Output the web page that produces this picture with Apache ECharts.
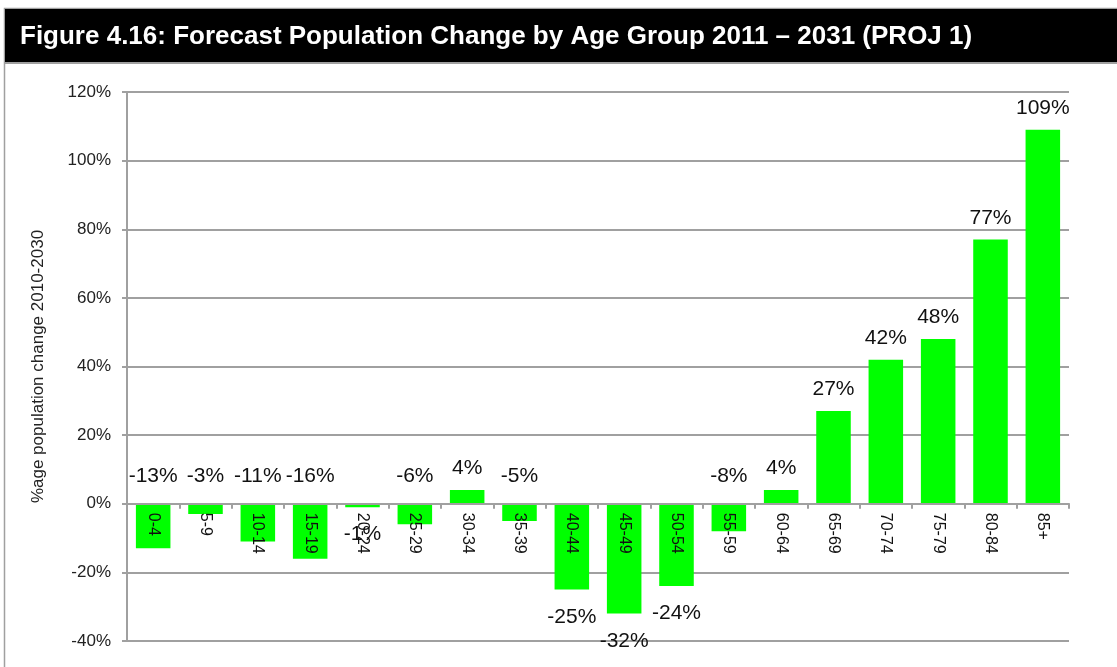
<!DOCTYPE html>
<html>
<head>
<meta charset="utf-8">
<script src="https://cdn.jsdelivr.net/npm/echarts@6/dist/echarts.min.js"></script>
<style>
  html, body { margin: 0; padding: 0; background: #fff; }
  #chart { width: 1117px; height: 667px; }
</style>
</head>
<body>
<div id="chart"></div>
<script type="text/javascript">
  const ageGroups = ['0-4', '5-9', '10-14', '15-19', '20-24', '25-29', '30-34', '35-39', '40-44',
    '45-49', '50-54', '55-59', '60-64', '65-69', '70-74', '75-79', '80-84', '85+']
  const changePct = [-13, -3, -11, -16, -1, -6, 4, -5, -25, -32, -24, -8, 4, 27, 42, 48, 77, 109]
  const yTicks = { min: -40, max: 120, interval: 20 }

  const FONT = "'Liberation Sans', Arial, sans-serif"
  const GRID_TOP = 92
  const GRID_BOTTOM = 26
  const H = 667
  const myChart = echarts.init(document.getElementById('chart'))

  // the category axis sits on the 0% line, labels and all
  const plotH = H - GRID_TOP - GRID_BOTTOM
  const zeroY = GRID_TOP + plotH * (yTicks.max / (yTicks.max - yTicks.min))
  const xOffset = -(H - GRID_BOTTOM - zeroY)

  // labels sit above the zero line except the big drops and the tiny -1%
  const barData = changePct.map((v) => {
    const below = v <= -20 || (v < 0 && v > -2)
    return {
      value: v,
      label: { position: below ? 'bottom' : 'top', distance: v < 0 ? 17 : 11 }
    }
  })

  let option = {
    animation: false,
    graphic: [
      {
        type: 'rect',
        shape: { x: 4.5, y: 8.5, width: 1200, height: 700 },
        style: { fill: '#fff', stroke: '#a0a0a0', lineWidth: 1.5 },
        z: -10
      },
      {
        type: 'rect',
        shape: { x: 5, y: 9, width: 1112, height: 54 },
        style: { fill: '#000' },
        z: -9
      },
      {
        type: 'rect',
        shape: { x: 5, y: 62, width: 1112, height: 2 },
        style: { fill: '#a0a0a0' },
        z: -9
      }
    ],
    title: {
      text: 'Figure 4.16: Forecast Population Change by Age Group 2011 \u2013 2031 (PROJ 1)',
      left: 15,
      top: 19,
      textStyle: {
        color: '#fff',
        fontSize: 26,
        fontWeight: 'bold',
        fontFamily: FONT
      }
    },
    grid: {
      left: 127,
      right: 48,
      top: GRID_TOP,
      bottom: GRID_BOTTOM,
      outerBoundsMode: 'none',
      containLabel: false
    },
    xAxis: {
      type: 'category',
      data: ageGroups,
      position: 'bottom',
      offset: xOffset,
      z: 10,
      axisLine: {
        onZero: false,
        lineStyle: { color: '#a0a0a0', width: 2 }
      },
      axisTick: {
        show: true,
        length: 5,
        lineStyle: { color: '#a0a0a0', width: 2 }
      },
      axisLabel: {
        rotate: -90,
        interval: 0,
        margin: 9,
        color: '#111',
        fontSize: 16,
        fontFamily: FONT
      }
    },
    yAxis: {
      type: 'value',
      min: yTicks.min,
      max: yTicks.max,
      interval: yTicks.interval,
      name: '%age population change 2010-2030',
      nameLocation: 'middle',
      nameGap: 80,
      nameTextStyle: {
        color: '#222',
        fontSize: 17,
        fontFamily: FONT
      },
      axisLine: {
        show: true,
        lineStyle: { color: '#a0a0a0', width: 2 }
      },
      axisTick: {
        show: true,
        length: 5,
        lineStyle: { color: '#a0a0a0', width: 2 }
      },
      axisLabel: {
        formatter: '{value}%',
        margin: 16,
        color: '#222',
        fontSize: 17,
        fontFamily: FONT
      },
      splitLine: {
        show: true,
        lineStyle: { color: '#a0a0a0', width: 2 }
      }
    },
    series: [{
      type: 'bar',
      data: barData,
      barCategoryGap: '34%',
      z: 2,
      itemStyle: { color: '#00ff00' },
      label: {
        show: true,
        formatter: '{c}%',
        color: '#111',
        fontSize: 21,
        fontFamily: FONT
      }
    }]
  }
  myChart.setOption(option)
</script>
</body>
</html>
